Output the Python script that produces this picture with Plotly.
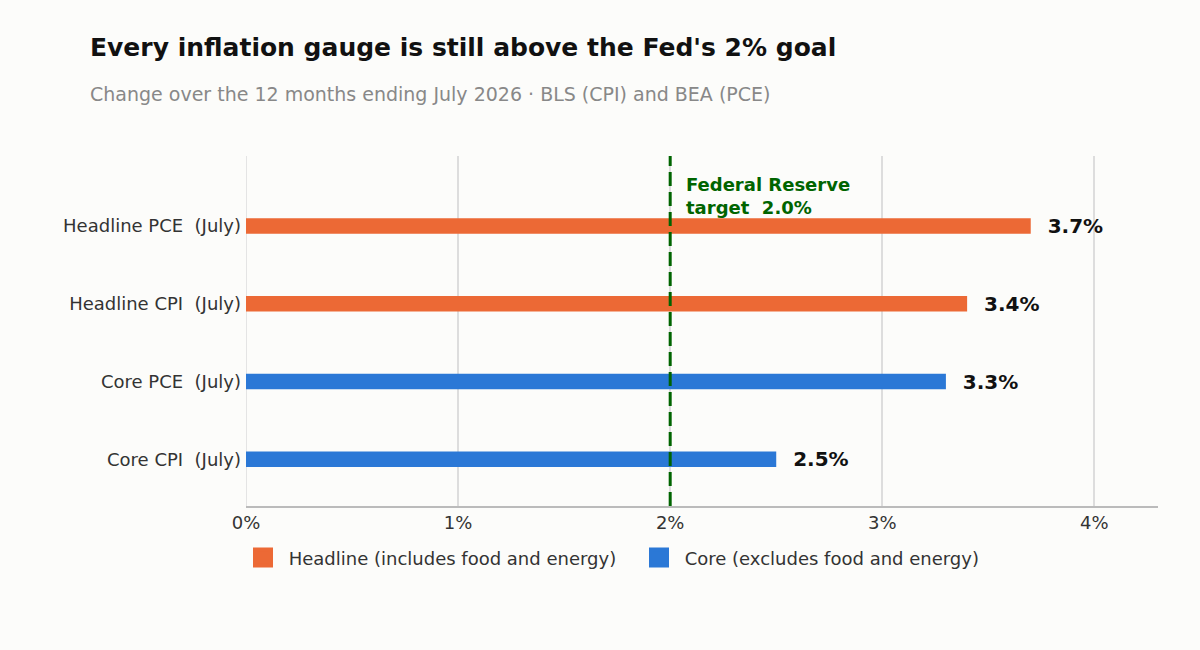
import plotly.graph_objects as go

# data
headline_labels = ["Headline CPI  (July)", "Headline PCE  (July)"]
headline_values = [3.4, 3.7]
core_labels = ["Core CPI  (July)", "Core PCE  (July)"]
core_values = [2.5, 3.3]
category_order = ["Core CPI  (July)", "Core PCE  (July)", "Headline CPI  (July)", "Headline PCE  (July)"]
fed_target = 2.0
x_ticks = [0, 1, 2, 3, 4]

bg = "#FCFCFA"
orange = "#EC6935"
blue = "#2B78D6"
green = "#006400"
label_font = dict(size=20, color="#111111", family="DejaVu Sans", weight="bold")

fig = go.Figure()

for labels, values, color in [(headline_labels, headline_values, orange), (core_labels, core_values, blue)]:
    fig.add_trace(go.Bar(
        y=labels, x=values, orientation="h", showlegend=False,
        marker=dict(color=color, line=dict(width=0)), width=0.2,
        text=[f"  {v:.1f}%" for v in values], textposition="outside",
        textfont=label_font, outsidetextfont=label_font,
        constraintext="none", cliponaxis=False,
    ))

# legend swatches (bigger squares than the bar default)
for name, color in [("Headline (includes food and energy)", orange), ("Core (excludes food and energy)", blue)]:
    fig.add_trace(go.Scatter(x=[None], y=[None], mode="markers", name=" " + name,
                             marker=dict(symbol="square", size=16, color=color,
                                         line=dict(color=color, width=4))))

# Fed target line
fig.add_shape(type="line", x0=fed_target, x1=fed_target, xref="x", y0=0, y1=1, yref="paper",
              line=dict(color=green, width=3, dash="14px,6px"))
fig.add_annotation(x=fed_target, xref="x", y=3.385, yref="y", xshift=14,
                   text="<b>Federal Reserve<br>target  2.0%</b>", showarrow=False,
                   xanchor="left", yanchor="middle", align="left",
                   font=dict(size=18, color=green, family="DejaVu Sans"))

# subtitle
fig.add_annotation(x=(88 - 246) / 912, xref="paper", y=1 + (156 - 94) / 350, yref="paper",
                   text="Change over the 12 months ending July 2026 · BLS (CPI) and BEA (PCE)",
                   showarrow=False, xanchor="left", yanchor="middle",
                   font=dict(size=19, color="#888888", family="DejaVu Sans"))

fig.update_layout(
    width=1200, height=650,
    paper_bgcolor=bg, plot_bgcolor=bg,
    font=dict(family="DejaVu Sans", color="#333333", size=18),
    title=dict(text="<b>Every inflation gauge is still above the Fed's 2% goal</b>",
               x=90 / 1200, xref="container", xanchor="left",
               y=1 - 47 / 650, yref="container", yanchor="middle",
               font=dict(size=25, color="#111111", family="DejaVu Sans")),
    margin=dict(l=246, r=42, t=156, b=144),
    barmode="overlay",
    showlegend=True,
    legend=dict(orientation="h", x=-0.0033, xanchor="left", y=-0.148, yanchor="middle",
                entrywidth=351, font=dict(size=18, color="#333333"), bgcolor="rgba(0,0,0,0)"),
)
fig.update_xaxes(range=[0, 4.3], tickvals=x_ticks, ticktext=[f"{t}%" for t in x_ticks],
                 showgrid=True, gridcolor="#DDDDDD", gridwidth=1.5,
                 zeroline=False, showline=True, linecolor="#BBBBBB", linewidth=1.5,
                 tickfont=dict(size=18, color="#333333"), ticks="", ticklabelstandoff=0)
fig.update_yaxes(categoryorder="array", categoryarray=category_order, range=[-0.6, 3.9],
                 showgrid=False, zeroline=False, showline=False, ticks="",
                 tickfont=dict(size=18, color="#333333"), ticklabelstandoff=4)

# light line at x=0
fig.add_shape(type="line", x0=0, x1=0, xref="x", y0=0, y1=1, yref="paper",
              line=dict(color="#DDDDDD", width=1.5), layer="below")

fig.write_html("out.html", config={"displayModeBar": False},
               post_script="document.body.style.margin='0';")
